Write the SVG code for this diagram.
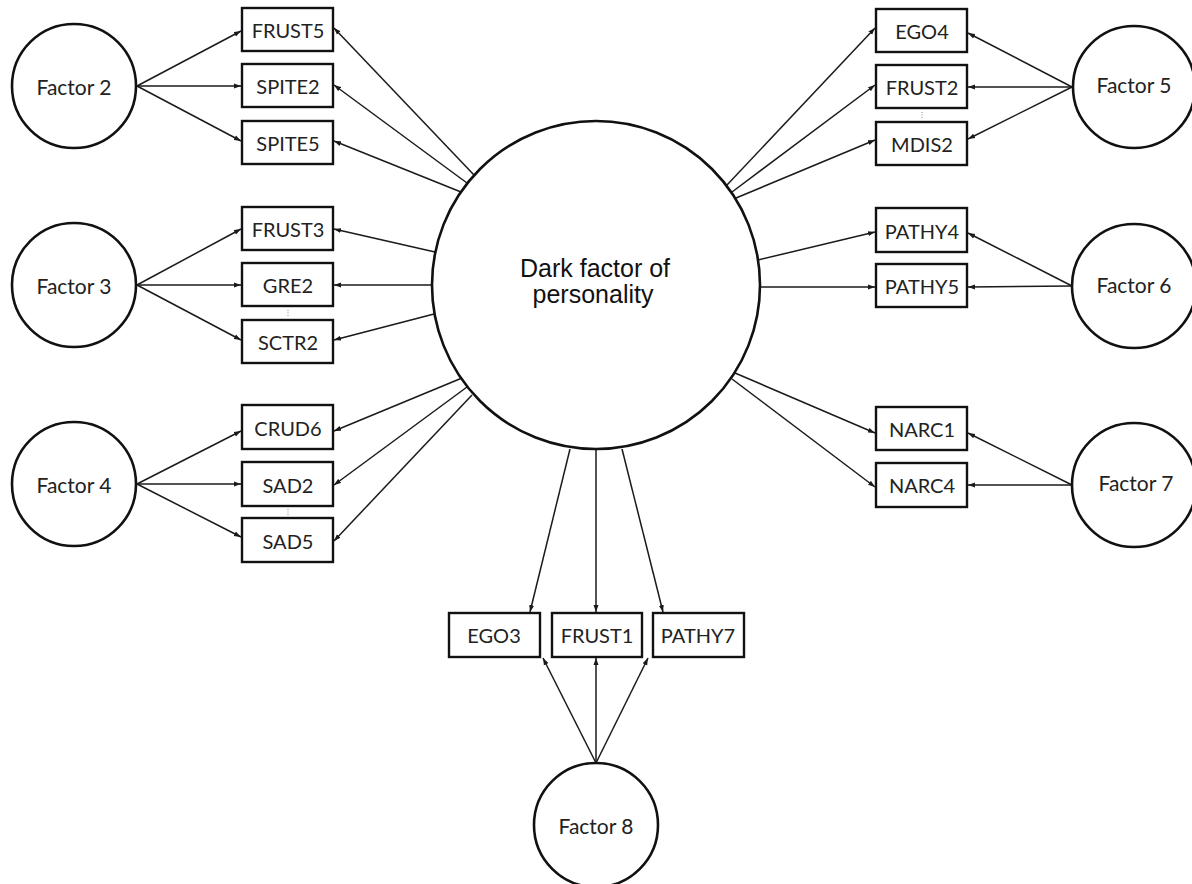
<svg xmlns="http://www.w3.org/2000/svg" width="1192" height="884" viewBox="0 0 1192 884">
<defs>
<marker id="ah" markerUnits="userSpaceOnUse" markerWidth="8" markerHeight="6" refX="7" refY="3" orient="auto">
<path d="M0,0.5 L7,3 L0,5.5 z" fill="#1a1a1a"/>
</marker>
<style>
.lat{fill:#fff;stroke:#111;stroke-width:2.6}
.box{fill:#fff;stroke:#111;stroke-width:2.4}
.lbl{font-family:Lato,"Open Sans","Liberation Sans",sans-serif;font-size:20px;fill:#222;text-anchor:middle;dominant-baseline:central}
.fac{font-size:21px}
.main{font-family:"Liberation Sans",Arial,sans-serif;font-size:25px;fill:#111;text-anchor:middle}
.c line{stroke:#1a1a1a;stroke-width:1.5;marker-end:url(#ah)}
.dots{stroke:#888;stroke-width:1;stroke-dasharray:1 1.5}
</style>
</defs>
<rect width="1192" height="884" fill="#fff"/>
<g class="c" id="connectors">
<line x1="137" y1="86" x2="241" y2="31"/>
<line x1="137" y1="86" x2="241" y2="86"/>
<line x1="137" y1="86" x2="241" y2="141"/>
<line x1="474" y1="175" x2="334" y2="28"/>
<line x1="467" y1="183" x2="334" y2="85"/>
<line x1="461" y1="192" x2="334" y2="141"/>
<line x1="137" y1="285" x2="241" y2="229"/>
<line x1="137" y1="285" x2="241" y2="285"/>
<line x1="137" y1="285" x2="241" y2="340"/>
<line x1="435" y1="252" x2="334" y2="229"/>
<line x1="432" y1="285" x2="334" y2="285"/>
<line x1="434" y1="314" x2="334" y2="340"/>
<line x1="137" y1="484" x2="241" y2="431"/>
<line x1="137" y1="484" x2="241" y2="484"/>
<line x1="137" y1="484" x2="241" y2="537"/>
<line x1="462" y1="378" x2="334" y2="431"/>
<line x1="467" y1="387" x2="334" y2="485"/>
<line x1="472" y1="395" x2="334" y2="541"/>
<line x1="1072" y1="87" x2="968" y2="33"/>
<line x1="1072" y1="87" x2="968" y2="87"/>
<line x1="1072" y1="87" x2="968" y2="139"/>
<line x1="727" y1="185" x2="875" y2="28"/>
<line x1="732" y1="192" x2="875" y2="85"/>
<line x1="736" y1="198" x2="875" y2="140"/>
<line x1="1072" y1="286" x2="968" y2="233"/>
<line x1="1072" y1="286" x2="968" y2="287"/>
<line x1="758" y1="260" x2="875" y2="232"/>
<line x1="760" y1="287" x2="875" y2="287"/>
<line x1="1072" y1="485" x2="968" y2="433"/>
<line x1="1072" y1="485" x2="968" y2="485"/>
<line x1="735" y1="373" x2="875" y2="433"/>
<line x1="732" y1="379" x2="875" y2="487"/>
<line x1="570" y1="449" x2="530" y2="612"/>
<line x1="596" y1="449" x2="596" y2="612"/>
<line x1="622" y1="449" x2="663" y2="612"/>
<line x1="596" y1="763" x2="543" y2="658"/>
<line x1="596" y1="763" x2="596" y2="658"/>
<line x1="596" y1="763" x2="648" y2="658"/>
</g>
<g id="dots">
<line class="dots" x1="288" y1="310" x2="288" y2="317"/>
<line class="dots" x1="288" y1="509" x2="288" y2="516"/>
<line class="dots" x1="922" y1="112" x2="922" y2="119"/>
</g>
<g id="dark"><circle class="lat" cx="596" cy="285" r="164"/><text class="main" x="595" y="277">Dark factor of</text><text class="main" x="593" y="303">personality</text></g>
<g id="f2"><circle class="lat" cx="74" cy="86" r="62"/><text class="lbl fac" x="74" y="86">Factor 2</text></g>
<g id="f3"><circle class="lat" cx="74" cy="285" r="62"/><text class="lbl fac" x="74" y="285">Factor 3</text></g>
<g id="f4"><circle class="lat" cx="74" cy="484" r="62"/><text class="lbl fac" x="74" y="484">Factor 4</text></g>
<g id="f5"><circle class="lat" cx="1134" cy="87" r="61"/><text class="lbl fac" x="1134" y="84">Factor 5</text></g>
<g id="f6"><circle class="lat" cx="1134" cy="286" r="62"/><text class="lbl fac" x="1134" y="284">Factor 6</text></g>
<g id="f7"><circle class="lat" cx="1134" cy="485" r="62"/><text class="lbl fac" x="1136" y="482">Factor 7</text></g>
<g id="f8"><circle class="lat" cx="596" cy="825" r="62"/><text class="lbl fac" x="596" y="825">Factor 8</text></g>
<g id="frust5"><rect class="box" x="242" y="8" width="91" height="43"/><text class="lbl" x="288" y="30">FRUST5</text></g>
<g id="spite2"><rect class="box" x="242" y="64" width="91" height="43"/><text class="lbl" x="288" y="86">SPITE2</text></g>
<g id="spite5"><rect class="box" x="242" y="121" width="91" height="43"/><text class="lbl" x="288" y="143">SPITE5</text></g>
<g id="frust3"><rect class="box" x="242" y="207" width="91" height="43"/><text class="lbl" x="288" y="229">FRUST3</text></g>
<g id="gre2"><rect class="box" x="242" y="263" width="91" height="43"/><text class="lbl" x="288" y="285">GRE2</text></g>
<g id="sctr2"><rect class="box" x="242" y="320" width="91" height="43"/><text class="lbl" x="288" y="342">SCTR2</text></g>
<g id="crud6"><rect class="box" x="242" y="405" width="91" height="44"/><text class="lbl" x="288" y="428">CRUD6</text></g>
<g id="sad2"><rect class="box" x="242" y="462" width="91" height="44"/><text class="lbl" x="288" y="485">SAD2</text></g>
<g id="sad5"><rect class="box" x="242" y="518" width="91" height="44"/><text class="lbl" x="288" y="541">SAD5</text></g>
<g id="ego4"><rect class="box" x="876" y="9" width="91" height="43"/><text class="lbl" x="922" y="31">EGO4</text></g>
<g id="frust2"><rect class="box" x="876" y="65" width="91" height="43"/><text class="lbl" x="922" y="87">FRUST2</text></g>
<g id="mdis2"><rect class="box" x="876" y="122" width="91" height="43"/><text class="lbl" x="922" y="144">MDIS2</text></g>
<g id="pathy4"><rect class="box" x="876" y="208" width="91" height="44"/><text class="lbl" x="922" y="231">PATHY4</text></g>
<g id="pathy5"><rect class="box" x="876" y="264" width="91" height="43"/><text class="lbl" x="922" y="286">PATHY5</text></g>
<g id="narc1"><rect class="box" x="876" y="407" width="91" height="43"/><text class="lbl" x="922" y="429">NARC1</text></g>
<g id="narc4"><rect class="box" x="876" y="463" width="91" height="44"/><text class="lbl" x="922" y="485">NARC4</text></g>
<g id="ego3"><rect class="box" x="449" y="613" width="91" height="44"/><text class="lbl" x="494" y="635">EGO3</text></g>
<g id="frust1"><rect class="box" x="552" y="613" width="90" height="44"/><text class="lbl" x="597" y="635">FRUST1</text></g>
<g id="pathy7"><rect class="box" x="653" y="613" width="91" height="44"/><text class="lbl" x="698" y="635">PATHY7</text></g>
</svg>
